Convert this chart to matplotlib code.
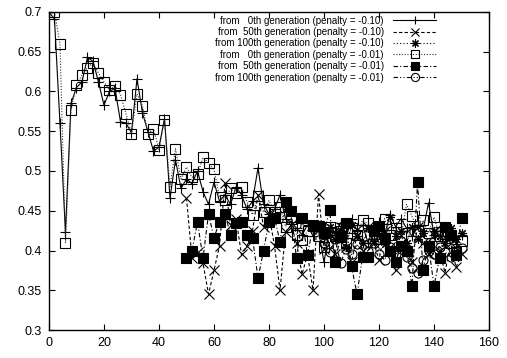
#
# penalty runs plot, gnuplot style
#
import numpy as np
import matplotlib
matplotlib.use("Agg")
import matplotlib.pyplot as plt

plt.rcParams['font.family'] = ['Liberation Sans', 'DejaVu Sans']

# generations sampled every 2 steps
gen_from0 = list(range(0, 151, 2))
gen_from50 = list(range(50, 151, 2))
gen_from100 = list(range(100, 151, 2))

# penalty = -0.10
p10_from0 = [0.700, 0.691, 0.560, 0.423, 0.585, 0.605, 0.612, 0.643, 0.638, 0.612,
             0.583, 0.600, 0.604, 0.562, 0.560, 0.548, 0.616, 0.573, 0.549, 0.525,
             0.530, 0.566, 0.466, 0.514, 0.478, 0.490, 0.484, 0.500, 0.474, 0.458,
             0.486, 0.462, 0.470, 0.458, 0.480, 0.470, 0.452, 0.462, 0.504, 0.458,
             0.446, 0.452, 0.470, 0.440, 0.436, 0.428, 0.420, 0.432, 0.418, 0.425,
             0.385, 0.428, 0.420, 0.435, 0.416, 0.440, 0.425, 0.432, 0.410, 0.428,
             0.436, 0.420, 0.445, 0.430, 0.440, 0.428, 0.418, 0.432, 0.425, 0.460,
             0.420, 0.430, 0.415, 0.425, 0.408, 0.420]
p10_from50 = [0.466, 0.390, 0.398, 0.384, 0.345, 0.375, 0.406, 0.485, 0.432, 0.440,
              0.395, 0.406, 0.425, 0.470, 0.430, 0.445, 0.406, 0.350, 0.423, 0.432,
              0.410, 0.370, 0.395, 0.350, 0.471, 0.402, 0.420, 0.395, 0.430, 0.405,
              0.385, 0.420, 0.400, 0.430, 0.410, 0.388, 0.425, 0.405, 0.375, 0.420,
              0.400, 0.385, 0.430, 0.410, 0.395, 0.420, 0.400, 0.372, 0.410, 0.379,
              0.395]
p10_from100 = [0.420, 0.430, 0.415, 0.425, 0.405, 0.432, 0.418, 0.410, 0.428, 0.412,
               0.420, 0.408, 0.442, 0.418, 0.425, 0.410, 0.430, 0.415, 0.422, 0.408,
               0.425, 0.418, 0.410, 0.428, 0.415, 0.422]

# penalty = -0.01
p01_from0 = [0.697, 0.700, 0.660, 0.410, 0.577, 0.608, 0.621, 0.630, 0.636, 0.623,
             0.612, 0.602, 0.607, 0.596, 0.572, 0.547, 0.597, 0.582, 0.547, 0.553,
             0.527, 0.564, 0.480, 0.528, 0.490, 0.505, 0.492, 0.496, 0.517, 0.510,
             0.502, 0.467, 0.464, 0.478, 0.472, 0.480, 0.461, 0.445, 0.468, 0.448,
             0.463, 0.449, 0.455, 0.430, 0.440, 0.420, 0.413, 0.425, 0.432, 0.418,
             0.405, 0.430, 0.418, 0.425, 0.410, 0.428, 0.420, 0.438, 0.434, 0.425,
             0.415, 0.440, 0.420, 0.428, 0.418, 0.458, 0.443, 0.425, 0.438, 0.422,
             0.442, 0.418, 0.425, 0.410, 0.398, 0.412]
p01_from50 = [0.390, 0.400, 0.436, 0.390, 0.446, 0.416, 0.436, 0.446, 0.420, 0.434,
              0.436, 0.420, 0.416, 0.365, 0.400, 0.436, 0.441, 0.411, 0.461, 0.450,
              0.390, 0.441, 0.394, 0.431, 0.431, 0.422, 0.451, 0.386, 0.417, 0.434,
              0.380, 0.345, 0.392, 0.392, 0.426, 0.431, 0.416, 0.400, 0.386, 0.406,
              0.400, 0.355, 0.486, 0.375, 0.406, 0.355, 0.391, 0.430, 0.420, 0.394,
              0.441]
p01_from100 = [0.410, 0.398, 0.415, 0.384, 0.402, 0.395, 0.408, 0.392, 0.400, 0.410,
               0.396, 0.388, 0.405, 0.395, 0.402, 0.392, 0.378, 0.372, 0.388, 0.400,
               0.395, 0.405, 0.398, 0.392, 0.400, 0.403]

labels = ["from   0th generation (penalty = -0.10)",
          "from  50th generation (penalty = -0.10)",
          "from 100th generation (penalty = -0.10)",
          "from   0th generation (penalty = -0.01)",
          "from  50th generation (penalty = -0.01)",
          "from 100th generation (penalty = -0.01)"]

xticks = [0, 20, 40, 60, 80, 100, 120, 140, 160]
yticks = [0.3, 0.35, 0.4, 0.45, 0.5, 0.55, 0.6, 0.65, 0.7]
ytick_labels = ["0.3", "0.35", "0.4", "0.45", "0.5", "0.55", "0.6", "0.65", "0.7"]

fig = plt.figure(figsize=(5.07, 3.58), dpi=100)
ax = fig.add_axes([0.0966, 0.0782, 0.868, 0.8883])

lw = 0.8
ms = 6.5
ax.plot(gen_from0, p10_from0, color='black', lw=lw, ls='-', marker='+', ms=ms,
        mew=lw, label=labels[0])
ax.plot(gen_from50, p10_from50, color='black', lw=lw, ls=(0, (3, 2)), marker='x',
        ms=ms, mew=lw, label=labels[1])
ax.plot(gen_from100, p10_from100, color='black', lw=lw, ls=(0, (1, 2)),
        marker=(8, 2, 0), ms=ms, mew=lw, label=labels[2])
ax.plot(gen_from0, p01_from0, color='#333333', lw=lw, ls=(0, (1, 1.5)), marker='s',
        ms=ms, mew=lw, mfc='none', mec='black', label=labels[3])
ax.plot(gen_from50, p01_from50, color='black', lw=lw, ls=(0, (4, 2, 1, 2)),
        marker='s', ms=ms, mew=lw, mfc='black', label=labels[4])
ax.plot(gen_from100, p01_from100, color='black', lw=lw, ls=(0, (4, 2, 1, 2, 1, 2)),
        marker='o', ms=ms, mew=lw, mfc='none', label=labels[5])

ax.set_xlim(0, 160)
ax.set_ylim(0.3, 0.7)
ax.set_xticks(xticks)
ax.set_yticks(yticks)
ax.set_yticklabels(ytick_labels)
ax.tick_params(direction='in', length=4, width=0.8, top=True, right=True,
               labelsize=9, pad=5)
for s in ax.spines.values():
    s.set_linewidth(1.0)

ax.legend(loc='upper right', bbox_to_anchor=(0.885, 0.995), frameon=False,
          markerfirst=False, fontsize=7, handlelength=4.5, handletextpad=0.9,
          labelspacing=0.15, borderaxespad=0.0, borderpad=0.2, markerscale=0.9)

fig.savefig("out.png", dpi=100)
